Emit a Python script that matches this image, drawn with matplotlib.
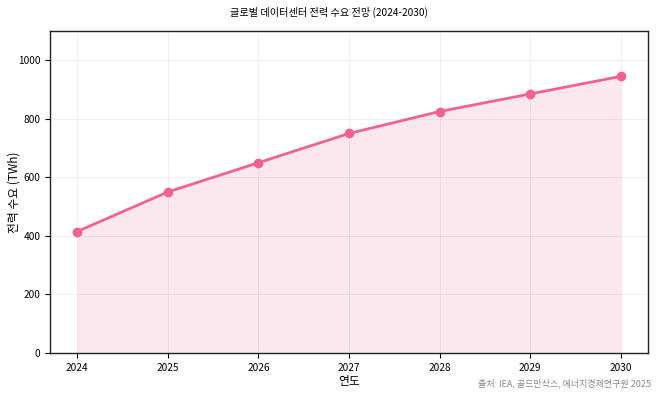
import matplotlib
matplotlib.use("Agg")
import matplotlib.pyplot as plt

plt.rcParams['font.family'] = ['Noto Sans CJK KR', 'DejaVu Sans']

years = [2024, 2025, 2026, 2027, 2028, 2029, 2030]
demand = [415, 550, 650, 750, 825, 885, 945]

color = '#f06292'

fig = plt.figure(figsize=(6.58, 3.95), dpi=100)
ax = fig.add_axes([50/658, 1 - 353/395, 598/658, 322/395])

ax.plot(years, demand, color=color, linewidth=2, marker='o', markersize=6, zorder=3)
ax.fill_between(years, demand, color=color, alpha=0.15, linewidth=0)

ax.set_ylim(0, 1100)
ax.set_xticks(years)
ax.set_yticks([0, 200, 400, 600, 800, 1000])
ax.tick_params(labelsize=7.3)
ax.grid(True, color='#dddddd', alpha=0.5, linewidth=0.6)
ax.set_axisbelow(True)
for s in ax.spines.values():
    s.set_linewidth(1.0)
    s.set_color('#222222')

ax.set_xlabel('연도', fontsize=8.5, labelpad=2)
ax.set_ylabel('전력 수요 (TWh)', fontsize=8.5)
ax.yaxis.set_label_coords(-0.049, 0.5)
fig.text(0.5, 1 - 12/395, '글로벌 데이터센터 전력 수요 전망 (2024-2030)', ha='center', va='center', fontsize=7.3)
fig.text(651/658, 1 - 383/395, '출처: IEA, 골드만삭스, 에너지경제연구원 2025', ha='right', va='center',
         fontsize=6.5, color='#888888')

fig.savefig('out.png', dpi=100)
